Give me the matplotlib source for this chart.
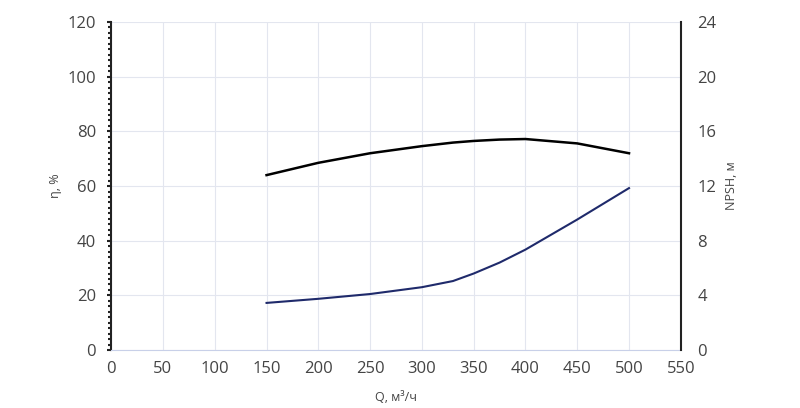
import matplotlib.pyplot as plt
from matplotlib.ticker import MultipleLocator

plt.rcParams['font.family'] = ['Open Sans', 'DejaVu Sans']

q = [150, 200, 250, 300, 330, 350, 375, 400, 450, 500]
eta = [64, 68.5, 72, 74.6, 75.9, 76.5, 77.0, 77.2, 75.6, 72]
npsh = [3.45, 3.75, 4.1, 4.6, 5.05, 5.6, 6.4, 7.35, 9.55, 11.85]

fig = plt.figure(figsize=(8, 4.08), dpi=100)
ax = fig.add_axes([0.139, 0.142, 0.712, 0.804])
ax2 = ax.twinx()

ax.plot(q, eta, color='black', lw=1.8)
ax2.plot(q, npsh, color='#1f2a6b', lw=1.5)

ax.set_xlim(0, 550)
ax.set_ylim(0, 120)
ax2.set_ylim(0, 24)
ax.set_xticks(range(0, 551, 50))
ax.set_yticks(range(0, 121, 20))
ax2.set_yticks(range(0, 25, 4))
ax.yaxis.set_minor_locator(MultipleLocator(2))
ax.grid(True, color='#e3e6ef', lw=0.8)
ax.set_axisbelow(True)

for a in (ax, ax2):
    for s in a.spines.values():
        s.set_visible(False)
ax.spines['left'].set_visible(True)
ax.spines['left'].set_color('#222222')
ax.spines['left'].set_linewidth(1.5)
ax.spines['bottom'].set_visible(True)
ax.spines['bottom'].set_color('#c8d0e8')
ax2.spines['right'].set_visible(True)
ax2.spines['right'].set_color('#222222')
ax2.spines['right'].set_linewidth(1.5)

ax.tick_params(axis='y', which='major', length=3, width=1.5, color='#222222', labelsize=12, labelcolor='#444444', pad=8)
ax.tick_params(axis='y', which='minor', length=2, width=1.5, color='#222222')
ax.tick_params(axis='x', length=0, labelsize=12, labelcolor='#444444', pad=8)
ax2.tick_params(axis='y', length=0, labelsize=12, labelcolor='#444444', pad=12)

ax.set_xlabel('Q, м³/ч', fontsize=9, color='#444444', labelpad=10)
ax.set_ylabel('η, %', fontsize=9, color='#444444', labelpad=4)
ax2.set_ylabel('NPSH, м', fontsize=9, color='#444444', labelpad=6)

fig.savefig('out.png')
